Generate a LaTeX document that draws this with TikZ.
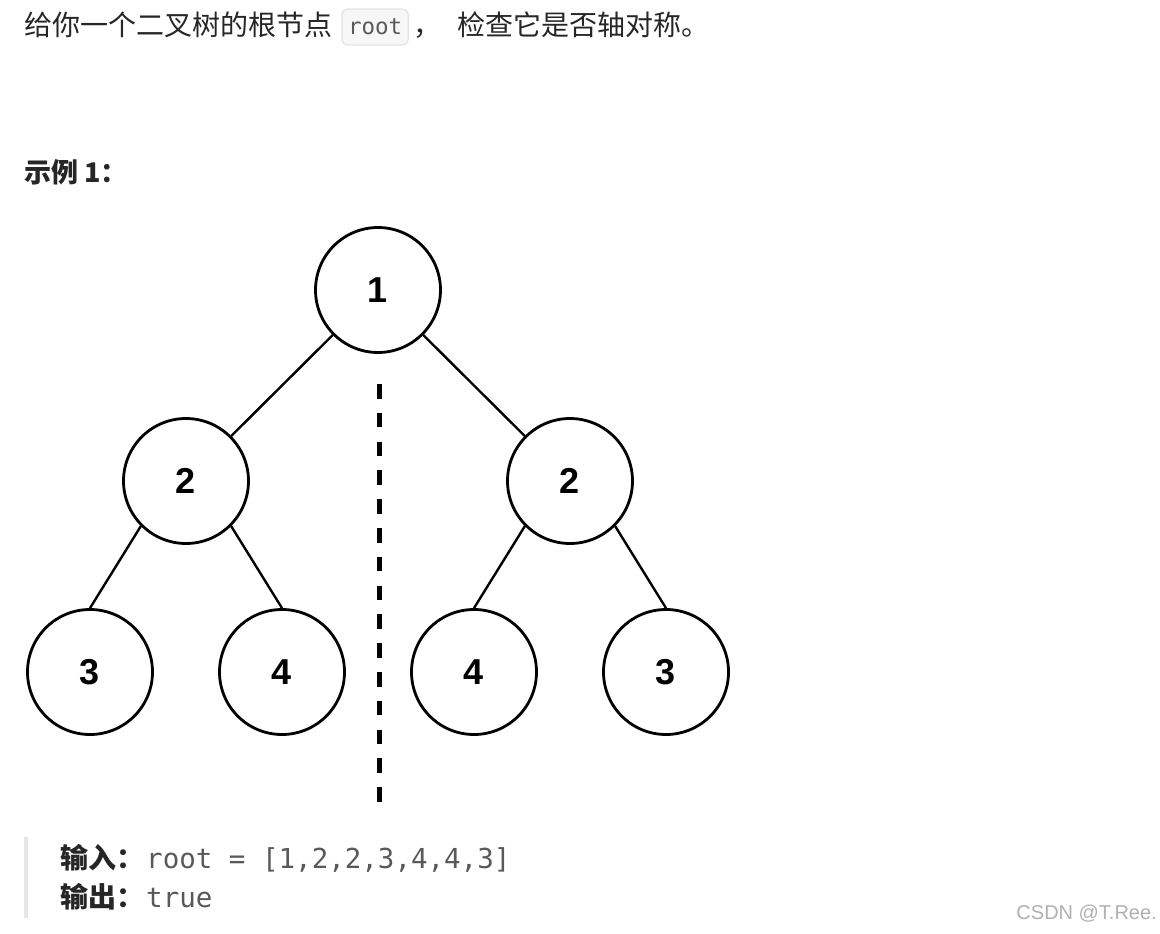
\documentclass[tikz,border=0pt]{standalone}
\usepackage{fontspec}
\setmainfont{Liberation Sans}
\setmonofont{DejaVu Sans Mono}
\newfontfamily\cjk{Noto Sans CJK SC}
\usetikzlibrary{positioning}
\definecolor{inktext}{HTML}{262626}
\definecolor{codetext}{HTML}{595959}
\definecolor{codefill}{HTML}{F7F7F7}
\definecolor{codeline}{HTML}{E3E3E3}
\definecolor{quotebar}{HTML}{E6E6E6}
\definecolor{marktext}{HTML}{B0B0B0}
\begin{document}
\begin{tikzpicture}[
    x=1pt, y=-1pt,
    treenode/.style={draw, circle, line width=2.8pt, minimum size=125pt, inner sep=0pt, font=\fontsize{36}{36}\selectfont\bfseries},
    edge/.style={line width=2.4pt},
    axisline/.style={line width=5pt, dash pattern=on 14.5pt off 14.3pt},
    cjktext/.style={inner sep=0pt, text=inktext, font=\cjk\fontsize{28}{32}\selectfont},
    codebox/.style={draw=codeline, fill=codefill, rounded corners=6pt, line width=1.2pt, minimum height=36pt, inner xsep=6pt, inner ysep=0pt, text=codetext, font=\ttfamily\fontsize{22.5}{24}\selectfont}
]
\useasboundingbox (0,0) rectangle (1160,934);
% Question text
\node[cjktext, anchor=west] (intro) at (24,25) {给你一个二叉树的根节点};
\node[codebox, right=9pt of intro, yshift=-2pt] (code) {root};
\node[cjktext, anchor=west, right=5pt of intro.east -| code.east] (ask) {，\hspace{16pt}检查它是否轴对称。};
\node[cjktext, anchor=west, font=\cjk\bfseries\fontsize{27}{30}\selectfont] (example) at (24,172) {示例 1：};
% Tree
\node[treenode] (root) at (378,290) {1};
\node[treenode] (l) at (186,481) {2};
\node[treenode] (r) at (570,481) {2};
\node[treenode] (ll) at (90,672) {3};
\node[treenode] (lr) at (282,672) {4};
\node[treenode] (rl) at (474,672) {4};
\node[treenode] (rr) at (666,672) {3};
% Edges
\draw[edge] (root) -- (l);
\draw[edge] (root) -- (r);
\draw[edge] (l.south west) -- (ll.north);
\draw[edge] (l.south east) -- (lr.north);
\draw[edge] (r.south west) -- (rl.north);
\draw[edge] (r.south east) -- (rr.north);
% Symmetry axis
\coordinate (axtop) at (379,384);
\coordinate (axbot) at (379,802);
\draw[axisline] (axtop) -- (axbot);
% Input / output block
\coordinate (bartop) at (26,837);
\coordinate (barbot) at (26,918);
\draw[quotebar, line width=4pt] (bartop) -- (barbot);
\node[cjktext, anchor=west] (input) at (60,858) {\bfseries 输入：\hspace{2pt}{\mdseries\ttfamily\fontsize{27.5}{30}\selectfont\color{codetext}root = [1,2,2,3,4,4,3]}};
\node[cjktext, anchor=west] (output) at (60,897) {\bfseries 输出：\hspace{2pt}{\mdseries\ttfamily\fontsize{27.5}{30}\selectfont\color{codetext}true}};
% Watermark
\node[anchor=east, inner sep=0pt, text=marktext, font=\fontsize{20}{22}\selectfont] (mark) at (1157,914) {CSDN @T.Ree.};
\end{tikzpicture}
\end{document}
